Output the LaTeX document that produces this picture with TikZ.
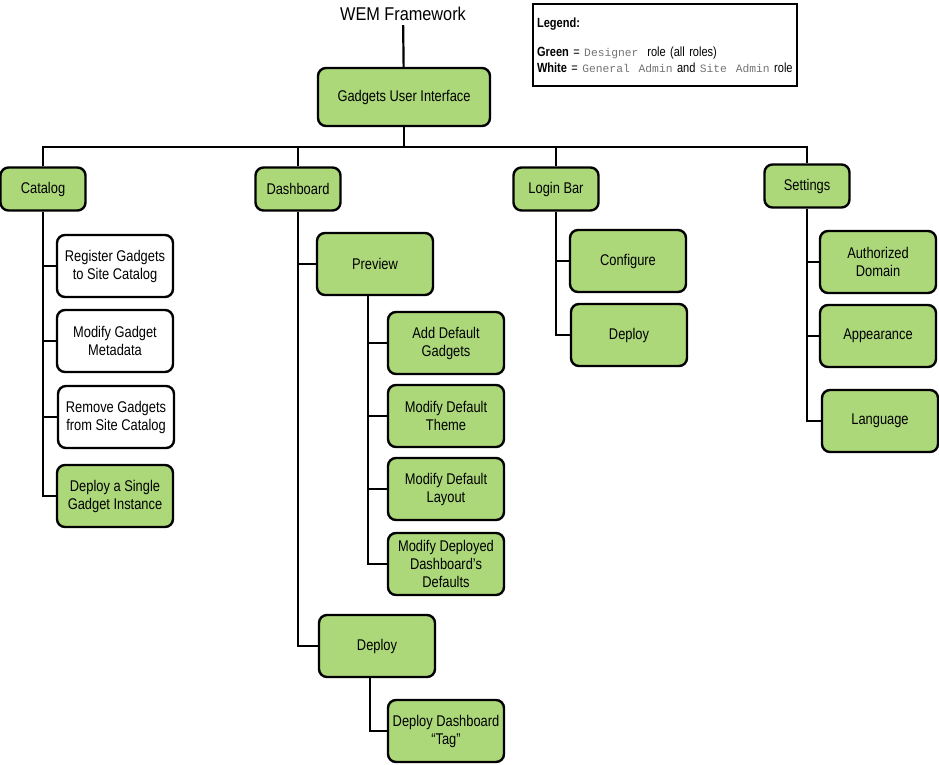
\documentclass[tikz,border=0pt]{standalone}
\usepackage{fontspec}
\setmainfont{Liberation Sans}[FakeStretch=0.88]
\setmonofont{Liberation Mono}
\newfontfamily\narrowfont{Liberation Sans}[FakeStretch=0.83, Ligatures=TeX]
\usepackage{tikz}
\usetikzlibrary{positioning}
\usepackage{xcolor}
\definecolor{gadgetgreen}{RGB}{172,216,122}
\newcommand{\roletxt}[1]{{\color{black!55}\fontsize{11.3pt}{16pt}\selectfont\ttfamily #1}}

\begin{document}
\begin{tikzpicture}[x=1pt, y=-1pt, line width=2.2pt, line join=miter,
	box/.style={draw, line width=2.4pt, rounded corners=8pt, align=center, inner sep=2pt,
		font=\narrowfont\fontsize{15.5pt}{18pt}\selectfont},
	greenbox/.style={box, fill=gadgetgreen, minimum width=116pt, minimum height=62pt},
	whitebox/.style={box, fill=white, minimum width=116pt, minimum height=62pt},
	topbox/.style={box, fill=gadgetgreen, minimum width=85pt, minimum height=43pt}]

	\useasboundingbox (0,0) rectangle (939,764);

	% Title and legend
	\node[font=\fontsize{18.5pt}{22pt}\selectfont] (title) at (403,14) {WEM Framework};
	\node[draw, line width=1.2pt, text width=256pt, inner xsep=4pt, minimum height=82pt, align=left,
		font=\narrowfont\fontsize{13.3pt}{16pt}\selectfont] (legend) at (665,45)
		{\textbf{Legend:}\\[13pt]
		\textbf{Green} = \roletxt{Designer\ } role (all roles)\\
		\textbf{White} = \roletxt{General\ \ Admin} and \roletxt{Site\ \ Admin} role};

	% Root
	\node[box, fill=gadgetgreen, minimum width=172pt, minimum height=58pt] (gui) at (404,97) {Gadgets User Interface};
	\coordinate (bus) at (404,147);

	% Top level
	\node[topbox] (catalog) at (43,189) {Catalog};
	\node[topbox] (dashboard) at (298,189) {Dashboard};
	\node[topbox] (loginbar) at (556,189) {Login Bar};
	\node[topbox] (settings) at (807,186) {Settings};

	% Catalog
	\node[whitebox] (register) at (115,266) {Register Gadgets\\to Site Catalog};
	\node[whitebox] (metadata) at (115,341) {Modify Gadget\\Metadata};
	\node[whitebox] (remove) at (116,417) {Remove Gadgets\\from Site Catalog};
	\node[greenbox] (single) at (115,496) {Deploy a Single\\Gadget Instance};

	% Dashboard
	\node[greenbox] (preview) at (375,264) {Preview};
	\node[greenbox] (addgadgets) at (446,343) {Add Default\\Gadgets};
	\node[greenbox] (theme) at (446,416) {Modify Default\\Theme};
	\node[greenbox] (layout) at (446,489) {Modify Default\\Layout};
	\node[greenbox] (defaults) at (446,564) {Modify Deployed\\Dashboard's\\Defaults};
	\node[greenbox] (dashdeploy) at (377,646) {Deploy};
	\node[greenbox] (tag) at (446,731) {Deploy Dashboard\\``Tag''};

	% Login Bar
	\node[greenbox] (configure) at (628,261) {Configure};
	\node[greenbox] (logindeploy) at (629,335) {Deploy};

	% Settings
	\node[greenbox] (domain) at (878,262) {Authorized\\Domain};
	\node[greenbox] (appearance) at (878,336) {Appearance};
	\node[greenbox] (language) at (880,421) {Language};

	% Edges
	\draw (title) -- (gui);
	\draw (gui) -- (bus);
	\draw (catalog.north) |- (bus) -| (settings.north);
	\draw (dashboard.north) -- (dashboard.north |- bus);
	\draw (loginbar.north) -- (loginbar.north |- bus);

	\draw (catalog.south) |- (register.west);
	\draw (catalog.south) |- (metadata.west);
	\draw (catalog.south) |- (remove.west);
	\draw (catalog.south) |- (single.west);

	\draw (dashboard.south) |- (preview.west);
	\draw (dashboard.south) |- (dashdeploy.west);
	\draw ([xshift=-7pt]preview.south) |- (addgadgets.west);
	\draw ([xshift=-7pt]preview.south) |- (theme.west);
	\draw ([xshift=-7pt]preview.south) |- (layout.west);
	\draw ([xshift=-7pt]preview.south) |- (defaults.west);
	\draw ([xshift=-7pt]dashdeploy.south) |- (tag.west);

	\draw (loginbar.south) |- (configure.west);
	\draw (loginbar.south) |- (logindeploy.west);

	\draw (settings.south) |- (domain.west);
	\draw (settings.south) |- (appearance.west);
	\draw (settings.south) |- (language.west);

\end{tikzpicture}
\end{document}
